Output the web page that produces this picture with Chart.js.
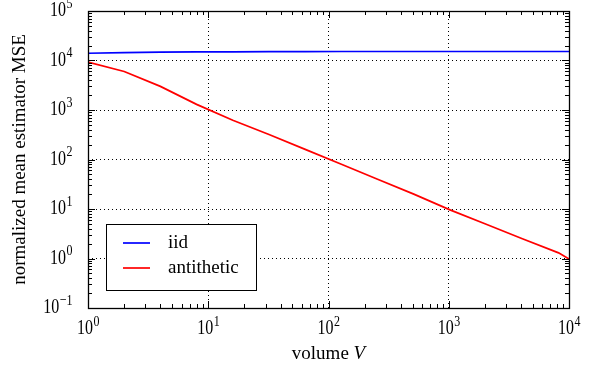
<!DOCTYPE html>
<html>
<head>
<meta charset="utf-8">
<script src="https://cdn.jsdelivr.net/npm/chart.js@4/dist/chart.umd.min.js"></script>
<style>
  html, body { margin: 0; padding: 0; background: #fff; }
  #mse_chart { display: block; }
</style>
</head>
<body>
<canvas id="mse_chart" width="594" height="370"></canvas>
<script>
// volume V (x values)
var volumes = [1, 2, 4, 8, 16, 32, 64, 128, 256, 512, 1024, 2048, 4096, 8192, 10000];
// normalized MSE, iid sampling
var iidMse = [14000, 14400, 14700, 14900, 15000, 15100, 15100, 15200, 15200, 15200, 15200, 15200, 15200, 15200, 15200];
// normalized MSE, antithetic sampling
var antitheticMse = [9300, 6000, 3000, 1300, 620, 320, 160, 80, 40, 20, 9.6, 4.9, 2.5, 1.3, 0.98];

var seriesLabels = ["iid", "antithetic"];
var seriesColors = ["#0000ff", "#ff0000"];

var xMin = 1, xMax = 10000;
var yMin = 0.1, yMax = 100000;

var serif = "'Liberation Serif', 'DejaVu Serif', serif";

function toPoints(xs, ys) {
    return xs.map(function (x, i) { return { x: x, y: ys[i] }; });
}

function isDecade(v) {
    var l = Math.log10(v);
    return Math.abs(l - Math.round(l)) < 1e-9;
}

function decadeColor(ctx) {
    return ctx.tick && isDecade(ctx.tick.value) ? "#000" : "rgba(0,0,0,0)";
}

// exponent labels like 10^3, slightly stretched vertically like the original
function drawPower(ctx, exp, x, y, align) {
    var base = "10", sup = exp < 0 ? "\u2212" + Math.abs(exp) : String(exp);
    var sy = 1.3;
    ctx.font = "16px " + serif;
    var wb = ctx.measureText(base).width;
    ctx.font = "12px " + serif;
    var ws = ctx.measureText(sup).width;
    var left = align === "right" ? x - wb - ws : x - (wb + ws) / 2;
    ctx.save();
    ctx.translate(0, y);
    ctx.scale(1, sy);
    ctx.textAlign = "left";
    ctx.textBaseline = "middle";
    ctx.font = "16px " + serif;
    ctx.fillText(base, left, 0);
    ctx.font = "12px " + serif;
    ctx.fillText(sup, left + wb + 0.5, -5.5);
    ctx.restore();
}

var decorations = {
    id: "decorations",
    afterDraw: function (chart) {
        var ctx = chart.ctx, a = chart.chartArea;
        var xs = chart.scales.x, ys = chart.scales.y;
        ctx.save();
        ctx.strokeStyle = "#000";
        ctx.fillStyle = "#000";
        ctx.lineWidth = 1;

        // inward ticks on all four sides
        ctx.beginPath();
        for (var d = 0; d <= 4; d++) {
            for (var m = 1; m <= 9; m++) {
                var v = m * Math.pow(10, d);
                if (v > xMax) break;
                var px = Math.round(xs.getPixelForValue(v)) + 0.5;
                var len = m === 1 ? 7 : 4;
                ctx.moveTo(px, a.bottom); ctx.lineTo(px, a.bottom - len);
                ctx.moveTo(px, a.top); ctx.lineTo(px, a.top + len);
            }
        }
        for (var e = -1; e <= 5; e++) {
            for (var k = 1; k <= 9; k++) {
                var w = k * Math.pow(10, e);
                if (w > yMax * 1.0001) break;
                var py = Math.round(ys.getPixelForValue(w)) + 0.5;
                var l2 = k === 1 ? 7 : 4;
                ctx.moveTo(a.left, py); ctx.lineTo(a.left + l2, py);
                ctx.moveTo(a.right, py); ctx.lineTo(a.right - l2, py);
            }
        }
        ctx.stroke();

        // frame
        ctx.lineWidth = 1.3;
        ctx.strokeRect(Math.round(a.left) + 0.5, Math.round(a.top) + 0.5,
            Math.round(a.right - a.left), Math.round(a.bottom - a.top));

        // tick labels
        for (var dx = 0; dx <= 4; dx++) {
            drawPower(ctx, dx, xs.getPixelForValue(Math.pow(10, dx)), a.bottom + 21, "center");
        }
        for (var dy = -1; dy <= 5; dy++) {
            drawPower(ctx, dy, a.left - 16, ys.getPixelForValue(Math.pow(10, dy)), "right");
        }

        // axis titles
        ctx.font = "19px " + serif;
        ctx.textBaseline = "middle";
        ctx.textAlign = "left";
        var t1 = "volume ", t2 = "V";
        var w1 = ctx.measureText(t1).width;
        ctx.font = "italic 19px " + serif;
        var w2 = ctx.measureText(t2).width;
        var cx = (a.left + a.right) / 2 - (w1 + w2) / 2;
        ctx.font = "19px " + serif;
        ctx.fillText(t1, cx, 354);
        ctx.font = "italic 19px " + serif;
        ctx.fillText(t2, cx + w1, 354);

        ctx.save();
        ctx.translate(20, (a.top + a.bottom) / 2);
        ctx.rotate(-Math.PI / 2);
        ctx.textAlign = "center";
        ctx.font = "19px " + serif;
        ctx.fillText("normalized mean estimator MSE", 0, 0);
        ctx.restore();

        // legend box
        var lx = 106, ly = 224, lw = 150, lh = 66;
        ctx.fillStyle = "#fff";
        ctx.fillRect(lx, ly, lw, lh);
        ctx.lineWidth = 1;
        ctx.strokeStyle = "#000";
        ctx.strokeRect(lx + 0.5, ly + 0.5, lw, lh);
        chart.data.datasets.forEach(function (ds, i) {
            var yy = ly + 19 + i * 25;
            ctx.strokeStyle = ds.borderColor;
            ctx.lineWidth = 1.7;
            ctx.beginPath();
            ctx.moveTo(lx + 17, yy);
            ctx.lineTo(lx + 44, yy);
            ctx.stroke();
            ctx.fillStyle = "#000";
            ctx.font = "19px " + serif;
            ctx.textAlign = "left";
            ctx.textBaseline = "middle";
            ctx.fillText(ds.label, lx + 62, yy);
        });
        ctx.restore();
    }
};

function renderMseChart() {
    var context = document.getElementById("mse_chart").getContext("2d");

    var mseChart = new Chart(context, {
        type: "line",
        data: {
            datasets: [
                {
                    label: seriesLabels[0],
                    data: toPoints(volumes, iidMse),
                    borderColor: seriesColors[0],
                    borderWidth: 1.7,
                    pointRadius: 0,
                    fill: false
                },
                {
                    label: seriesLabels[1],
                    data: toPoints(volumes, antitheticMse),
                    borderColor: seriesColors[1],
                    borderWidth: 1.7,
                    pointRadius: 0,
                    fill: false
                }
            ]
        },
        options: {
            responsive: false,
            animation: false,
            devicePixelRatio: 1,
            layout: { padding: { left: 88, right: 25, top: 11, bottom: 62 } },
            plugins: {
                legend: { display: false },
                tooltip: { enabled: false }
            },
            scales: {
                x: {
                    type: "logarithmic",
                    min: xMin,
                    max: xMax,
                    ticks: { display: false },
                    grid: { color: decadeColor, drawTicks: false, lineWidth: 1 },
                    border: { display: false, dash: [1, 3] }
                },
                y: {
                    type: "logarithmic",
                    min: yMin,
                    max: yMax,
                    ticks: { display: false },
                    grid: { color: decadeColor, drawTicks: false, lineWidth: 1 },
                    border: { display: false, dash: [1, 3] }
                }
            }
        },
        plugins: [decorations]
    });
}

renderMseChart();
</script>
</body>
</html>
